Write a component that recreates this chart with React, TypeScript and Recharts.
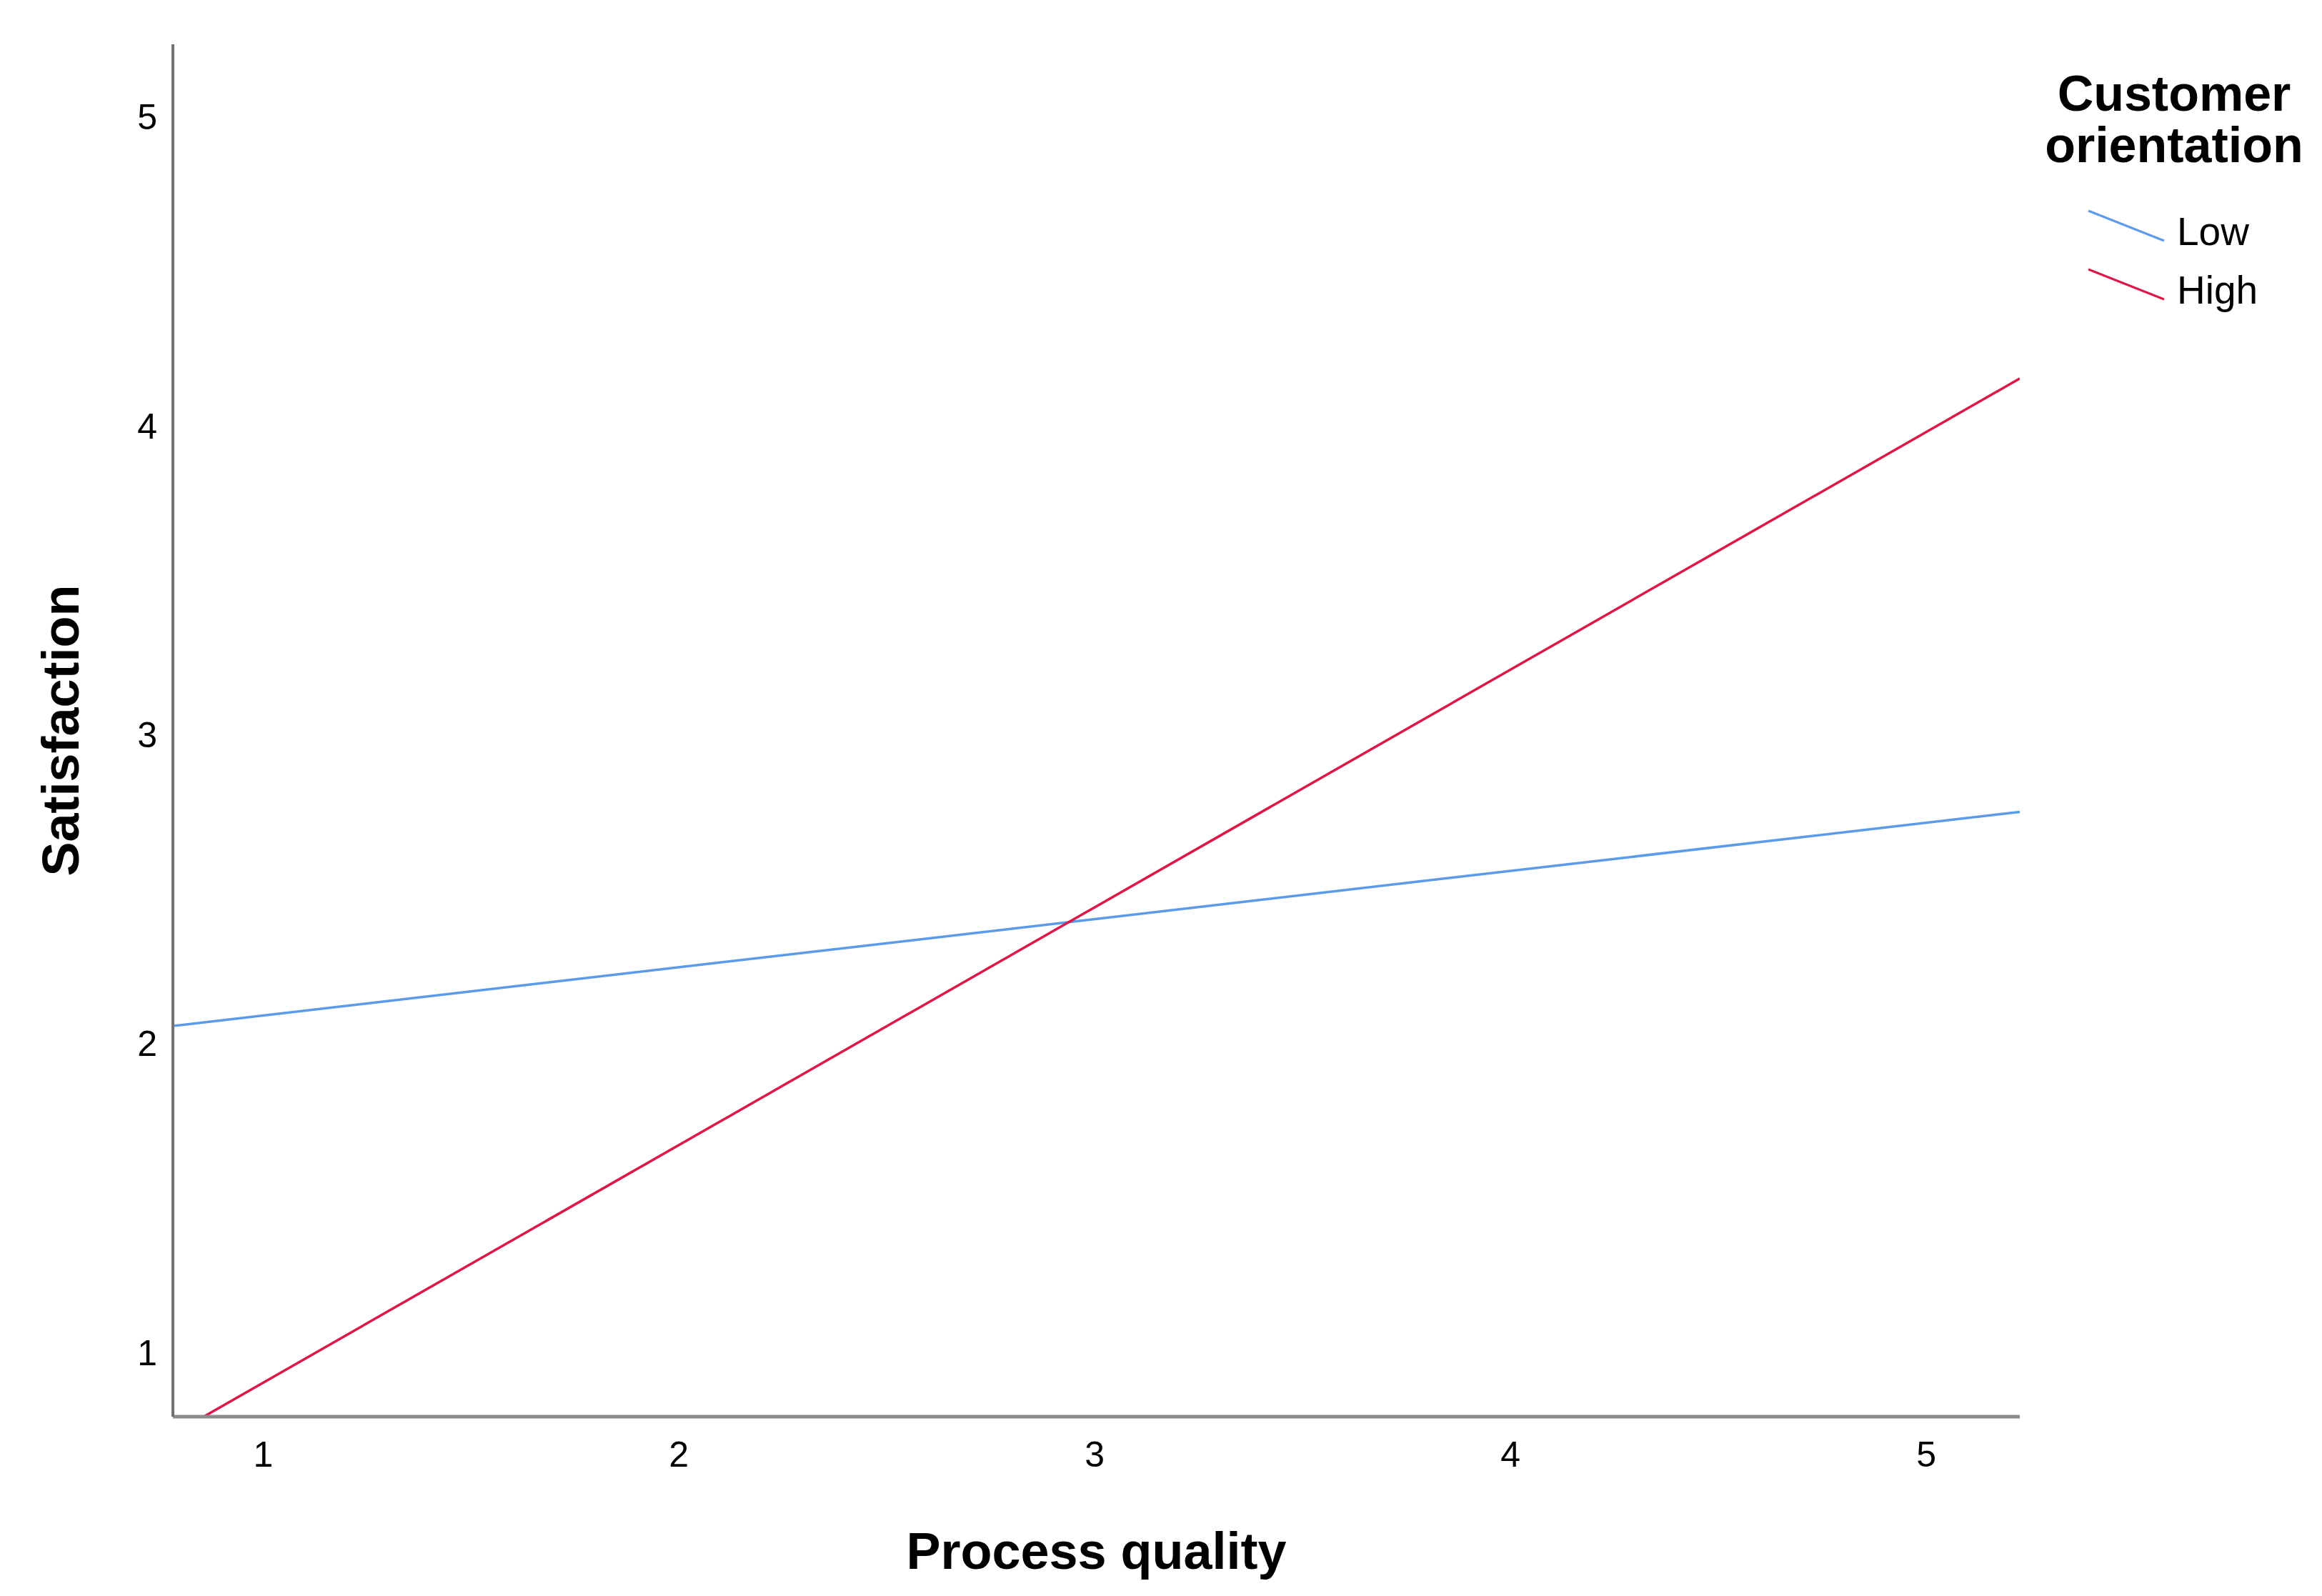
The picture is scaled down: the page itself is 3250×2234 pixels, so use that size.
import React from 'react';
import { LineChart, Line, XAxis, YAxis, Legend } from 'recharts';

// Process quality (x) at the two ends of the plotted range
const processQuality = [0.783, 5.225];
// Predicted satisfaction per customer orientation group
const lowSatisfaction = [2.057, 2.75];
const highSatisfaction = [0.735, 4.153];

const xTicks = [1, 2, 3, 4, 5];
const yTicks = [1, 2, 3, 4, 5];
const seriesNames = { low: 'Low', high: 'High' };
const legendOrder = ['Low', 'High'];
const legendTitle = ['Customer', 'orientation'];
const xTitle = 'Process quality';
const yTitle = 'Satisfaction';

const data = processQuality.map((x, i) => ({
  x,
  low: lowSatisfaction[i],
  high: highSatisfaction[i],
}));

const FONT = '"Liberation Sans", Arial, Helvetica, sans-serif';
const LOW_COLOR = '#5b9be8';
const HIGH_COLOR = '#dc1848';

const YTitle = (props: any) => {
  const vb = props.viewBox || {};
  const cx = (vb.x || 0) + 110;
  const cy = (vb.y || 0) + (vb.height || 0) / 2;
  return (
    <text
      x={cx}
      y={cy}
      transform={`rotate(-90 ${cx} ${cy})`}
      textAnchor="middle"
      fontFamily={FONT}
      fontWeight="bold"
      fontSize={72}
      fill="#000"
    >
      {yTitle}
    </text>
  );
};

const XTitle = (props: any) => {
  const vb = props.viewBox || {};
  const cx = (vb.x || 0) + (vb.width || 0) / 2;
  const cy = (vb.y || 0) + (vb.height || 0) - 38;
  return (
    <text
      x={cx}
      y={cy}
      textAnchor="middle"
      fontFamily={FONT}
      fontWeight="bold"
      fontSize={72}
      fill="#000"
    >
      {xTitle}
    </text>
  );
};

const LegendBox = (props: any) => {
  const payload = [...(props.payload || [])].sort(
    (a: any, b: any) => legendOrder.indexOf(a.value) - legendOrder.indexOf(b.value)
  );
  return (
    <svg width={450} height={420} style={{ display: 'block' }}>
      <text x={243} y={95} textAnchor="middle" fontFamily={FONT} fontWeight="bold" fontSize={70} fill="#000">
        {legendTitle[0]}
      </text>
      <text x={243} y={167} textAnchor="middle" fontFamily={FONT} fontWeight="bold" fontSize={70} fill="#000">
        {legendTitle[1]}
      </text>
      {payload.map((entry: any, i: number) => {
        const y0 = 235 + i * 82;
        return (
          <g key={i}>
            <line x1={123} y1={y0} x2={229} y2={y0 + 42} stroke={entry.color} strokeWidth={3} />
            <text x={247} y={y0 + 48} fontFamily={FONT} fontSize={55} fill="#000">
              {entry.value}
            </text>
          </g>
        );
      })}
    </svg>
  );
};

export default function App() {
  return (
    <div style={{ position: 'absolute', left: 0, top: 0, width: 3250, height: 2234, background: '#fff' }}>
      <LineChart
        width={3250}
        height={2234}
        data={data}
        margin={{ top: 62, right: 423, bottom: 0, left: 0 }}
      >
        <XAxis
          type="number"
          dataKey="x"
          domain={[0.783, 5.225]}
          ticks={xTicks}
          allowDataOverflow
          height={251}
          tickLine={false}
          tickSize={0}
          tickMargin={34}
          axisLine={{ stroke: '#8c8c8c', strokeWidth: 5 }}
          tick={{ fill: '#000', fontSize: 50, fontFamily: FONT }}
          label={<XTitle />}
        />
        <YAxis
          type="number"
          domain={[0.792, 5.235]}
          ticks={yTicks}
          allowDataOverflow
          width={242}
          tickLine={false}
          tickSize={0}
          tickMargin={22}
          axisLine={{ stroke: '#727272', strokeWidth: 4 }}
          tick={{ fill: '#000', fontSize: 50, fontFamily: FONT }}
          label={<YTitle />}
        />
        <Legend
          layout="horizontal"
          verticalAlign="middle"
          align="center"
          content={<LegendBox />}
          wrapperStyle={{ position: 'absolute', left: 2800, top: 60, width: 450, height: 420 }}
        />
        <Line
          type="linear"
          dataKey="low"
          name={seriesNames.low}
          stroke={LOW_COLOR}
          strokeWidth={3.5}
          dot={false}
          activeDot={false}
          isAnimationActive={false}
        />
        <Line
          type="linear"
          dataKey="high"
          name={seriesNames.high}
          stroke={HIGH_COLOR}
          strokeWidth={3.5}
          dot={false}
          activeDot={false}
          isAnimationActive={false}
        />
      </LineChart>
    </div>
  );
}
